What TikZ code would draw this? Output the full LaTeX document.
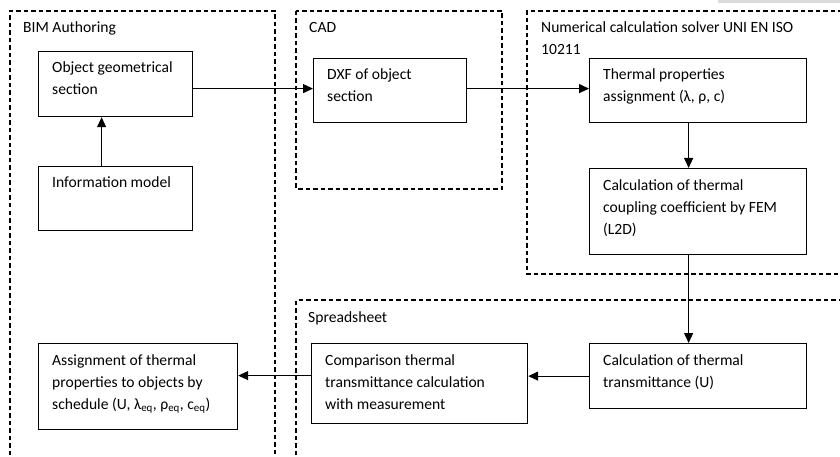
\documentclass[tikz,border=0pt]{standalone}
\usepackage{fontspec}
\setmainfont{Carlito}
\usetikzlibrary{arrows.meta}
\tikzset{
  box/.style={draw=black, line width=1.2pt, rectangle, inner sep=0pt, anchor=north west},
  txt/.style={inner sep=0pt, anchor=base west, font=\fontsize{15.6pt}{22pt}\selectfont},
  grp/.style={draw=black, line width=1.1pt, dash pattern=on 4.5pt off 3pt},
  arr/.style={draw=black, line width=1.2pt, -{Triangle[length=10pt,width=9pt]}}
}
\newcommand{\bx}[2]{\parbox[t]{#1}{\raggedright #2}}
\begin{document}
\begin{tikzpicture}[x=1pt,y=-1pt]
\clip (0,0) rectangle (840,457);
\fill[white] (0,0) rectangle (840,457);
\fill[gray!28] (718,0) rectangle (840,3);
% groups
\draw[grp] (10,470) -- (10,11) -- (275,11) -- (275,470);
\draw[grp] (296,11) rectangle (502,189);
\draw[grp] (850,11) -- (527,11) -- (527,274) -- (850,274);
\draw[grp] (296,470) -- (296,300) -- (850,300);
\node[txt] (tbim) at (23,33) {BIM Authoring};
\node[txt] (tcad) at (309,33) {CAD};
\node[txt] (tnum) at (541,33) {\bx{300pt}{Numerical calculation solver UNI EN ISO\\10211}};
\node[txt] (tspr) at (308,322) {Spreadsheet};
% boxes
\node[box, minimum width=154pt, minimum height=65pt] (obj) at (38,51) {};
\node[txt] (tobj) at (52,73) {\bx{140pt}{Object geometrical\\section}};
\node[box, minimum width=154pt, minimum height=64pt] (info) at (38,166) {};
\node[txt] (tinfo) at (52,188) {Information model};
\node[box, minimum width=153pt, minimum height=64pt] (dxf) at (313,58) {};
\node[txt] (tdxf) at (327,80) {\bx{140pt}{DXF of object\\section}};
\node[box, minimum width=217pt, minimum height=64pt] (therm) at (589,58) {};
\node[txt] (ttherm) at (603,80) {\bx{200pt}{Thermal properties\\assignment (λ, ρ, c)}};
\node[box, minimum width=217pt, minimum height=86pt] (coup) at (589,168) {};
\node[txt] (tcoup) at (603,190) {\bx{200pt}{Calculation of thermal\\coupling coefficient by FEM\\(L2D)}};
\node[box, minimum width=217pt, minimum height=65pt] (calcu) at (589,343) {};
\node[txt] (tcalcu) at (603,365) {\bx{200pt}{Calculation of thermal\\transmittance (U)}};
\node[box, minimum width=216pt, minimum height=80pt] (comp) at (311,343) {};
\node[txt] (tcomp) at (325,365) {\bx{200pt}{Comparison thermal\\transmittance calculation\\with measurement}};
\node[box, minimum width=199pt, minimum height=86pt] (assign) at (38,343) {};
\node[txt] (tassign) at (52,365) {\bx{185pt}{Assignment of thermal\\properties to objects by\\schedule (U, λ\textsubscript{eq}, ρ\textsubscript{eq}, c\textsubscript{eq})}};
% connectors
\draw[arr] ([xshift=-14pt]info.north) -- ([xshift=-14pt]obj.south);
\draw[arr] ([yshift=-4.5pt]obj.east) -- ([yshift=-4.5pt]obj.east -| dxf.west);
\draw[arr] ([yshift=2pt]dxf.east) -- ([yshift=2pt]dxf.east -| therm.west);
\draw[arr] ([xshift=-9.5pt]therm.south) -- ([xshift=-9.5pt]coup.north);
\draw[arr] ([xshift=-9.5pt]coup.south) -- ([xshift=-9.5pt]calcu.north);
\draw[arr] (calcu.west) -- (calcu.west -| comp.east);
\draw[arr] ([yshift=8pt]comp.west) -- ([yshift=8pt]comp.west -| assign.east);
\end{tikzpicture}
\end{document}
